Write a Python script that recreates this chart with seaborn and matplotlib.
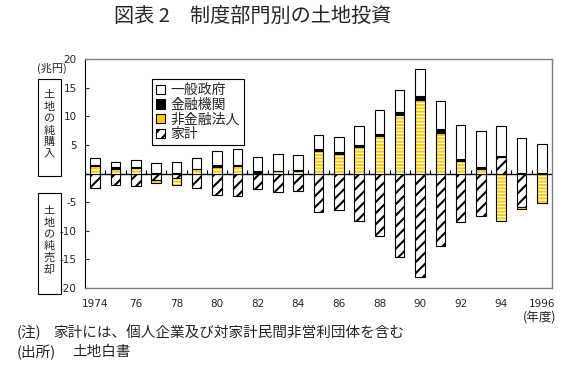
import numpy as np
import pandas as pd
import matplotlib
matplotlib.use("Agg")
import matplotlib.pyplot as plt
import seaborn as sns
from matplotlib.patches import Patch, Rectangle

# ---- data (兆円) ----
years = [str(y) for y in range(1974, 1997)]
gov    = [1.3, 0.95, 1.25, 1.7, 1.85, 1.95, 2.6, 2.7, 2.55, 2.9, 2.6, 2.55, 2.65,
          3.4, 4.15, 3.8, 4.65, 5.0, 5.9, 6.45, 5.25, 6.1, 5.05]
fin    = [0.1, 0.25, 0.05, 0.05, 0.15, 0.05, 0.2, 0.2, 0.35, 0.0, 0.2, 0.3, 0.35,
          0.3, 0.45, 0.6, 0.7, 0.7, 0.45, 0.25, 0.25, 0.1, 0.15]
nonfin = [1.35, 0.8, 1.0, -0.5, -1.3, 0.7, 1.2, 1.3, 0.0, 0.5, 0.45, 3.9, 3.4,
          4.6, 6.5, 10.2, 12.9, 7.0, 2.15, 0.8, -8.25, -0.35, -5.1]
hh     = [-2.5, -2.0, -2.15, -1.1, -0.7, -2.45, -3.7, -3.85, -2.75, -3.2, -3.0, -6.75, -6.4,
          -8.3, -10.9, -14.5, -18.1, -12.7, -8.5, -7.45, 2.8, -5.8, 0.0]

series_names = ["一般政府", "金融機関", "非金融法人", "家計"]
ytick_vals = [-20, -15, -10, -5, 0, 5, 10, 15, 20]
ytick_labels = ["-20", "-15", "-10", "-5", "", "5", "10", "15", "20"]
xtick_labels = ["1974", "76", "78", "80", "82", "84", "86", "88", "90", "92", "94", "1996"]

title = "図表 2　制度部門別の土地投資"
unit_label = "(兆円)"
year_label = "(年度)"
box_up = "土\n地\nの\n純\n購\n入"
box_down = "土\n地\nの\n純\n売\n却"
note1_head, note1 = "(注)", "家計には、個人企業及び対家計民間非営利団体を含む"
note2_head, note2 = "(出所)", "土地白書"

YELLOW = "#FFCC00"

sns.set_style("white")
plt.rcParams["font.family"] = ["Noto Sans CJK JP", "DejaVu Sans"]
plt.rcParams["hatch.linewidth"] = 1.5

W, H = 582, 383
fig = plt.figure(figsize=(W / 100, H / 100), dpi=100)
ax = fig.add_axes([85 / W, 95 / H, 467 / W, 229 / H])

n = len(years)
pos = np.zeros(n)
neg = np.zeros(n)
layers = []
for name, vals in [("家計", hh), ("非金融法人", nonfin), ("金融機関", fin), ("一般政府", gov)]:
    v = np.array(vals, dtype=float)
    bottom = np.where(v >= 0, pos, neg)
    layers.append((name, v, bottom))
    pos += np.where(v >= 0, v, 0)
    neg += np.where(v < 0, v, 0)

BW = 0.47
for name, v, bottom in layers:
    df = pd.DataFrame({"year": years, "value": v})
    common = dict(data=df, x="year", y="value", order=years, ax=ax, width=BW,
                  errorbar=None, saturation=1, bottom=bottom)
    if name == "家計":
        sns.barplot(**common, color="white", edgecolor="black", hatch="///",
                    linewidth=0.8, zorder=2)
    elif name == "非金融法人":
        sns.barplot(**common, color="white", edgecolor=YELLOW, hatch="-----",
                    linewidth=0, zorder=2)
        sns.barplot(**common, color="black", fill=False, edgecolor="black",
                    linewidth=0.8, zorder=2.1)
    elif name == "金融機関":
        sns.barplot(**common, color="black", edgecolor="black", linewidth=0.8, zorder=2)
    else:
        sns.barplot(**common, color="white", edgecolor="black", linewidth=0.8, zorder=2)

ax.set_xlim(-0.5, n - 0.5)
ax.set_ylim(-20, 20)
ax.axhline(0, color="black", lw=1.0, zorder=1)
ax.plot(np.arange(1, n) - 0.5, np.zeros(n - 1), linestyle="none", marker=2,
        markersize=3, color="black", markeredgewidth=0.8, zorder=1)

ax.set_xticks(np.arange(0, n, 2))
ax.set_xticklabels(xtick_labels, fontsize=7.5, family="DejaVu Sans")
ax.tick_params(axis="x", length=0, pad=8)
ax.set_yticks(ytick_vals)
ax.set_yticklabels(ytick_labels, fontsize=7.5, family="DejaVu Sans")
ax.tick_params(axis="y", direction="in", length=3, width=0.8, pad=6, left=True)
ax.set_xlabel("")
ax.set_ylabel("")

for s in ["top", "right", "bottom"]:
    ax.spines[s].set_color("#808080")
    ax.spines[s].set_linewidth(1.0)
ax.spines["left"].set_color("black")
ax.spines["left"].set_linewidth(0.8)

handles = [
    Patch(facecolor="white", edgecolor="black", linewidth=0.8),
    Patch(facecolor="black", edgecolor="black", linewidth=0.8),
    Patch(facecolor=YELLOW, edgecolor="black", linewidth=0.8),
    Patch(facecolor="white", edgecolor="black", hatch="///", linewidth=0.8),
]
leg = ax.legend(handles, series_names, loc="upper left",
                bbox_to_anchor=((152 - 85) / 467, (288 - 79) / 229),
                borderaxespad=0, fontsize=10, handlelength=0.65, handleheight=0.65,
                handletextpad=0.4, labelspacing=0.05, borderpad=0.3,
                fancybox=False, framealpha=1, edgecolor="black")
leg.get_frame().set_linewidth(0.8)

def fy(y):
    return 1 - y / H

fig.text(253 / W, fy(16), title, ha="center", va="center", fontsize=14.5)
fig.text(37 / W, fy(68), unit_label, ha="left", va="center", fontsize=8)
fig.text(556 / W, fy(318), year_label, ha="right", va="center", fontsize=9)

for (y0, y1), txt in [((79, 176), box_up), ((193, 294), box_down)]:
    fig.add_artist(Rectangle((38 / W, fy(y1)), 23 / W, (y1 - y0) / H,
                             transform=fig.transFigure, fill=False,
                             edgecolor="black", linewidth=0.8))
    fig.text(49.5 / W, fy((y0 + y1) / 2 - 3), txt, ha="center", va="center",
             fontsize=8, linespacing=1.2)

fig.text(17 / W, fy(333), note1_head, ha="left", va="center", fontsize=10.5)
fig.text(53 / W, fy(333), note1, ha="left", va="center", fontsize=10.5)
fig.text(17 / W, fy(352), note2_head, ha="left", va="center", fontsize=10.5)
fig.text(72 / W, fy(352), note2, ha="left", va="center", fontsize=10.5)

fig.savefig("out.png", dpi=100)
